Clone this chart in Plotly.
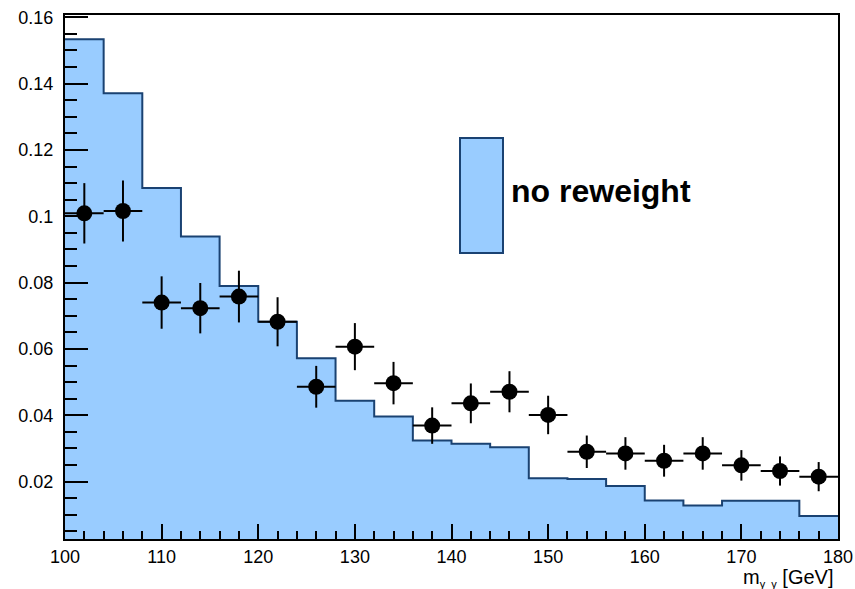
import plotly.graph_objects as go

# Binning: 20 bins of 4 GeV between 100 and 180 GeV
bin_edges = [100, 104, 108, 112, 116, 120, 124, 128, 132, 136, 140,
             144, 148, 152, 156, 160, 164, 168, 172, 176, 180]
bin_centers = [102, 106, 110, 114, 118, 122, 126, 130, 134, 138,
               142, 146, 150, 154, 158, 162, 166, 170, 174, 178]

# Simulation without reweighting (normalised histogram)
mc_noreweight = [0.1534, 0.1371, 0.1085, 0.0939, 0.0790, 0.0682, 0.0572,
                 0.0444, 0.0396, 0.0324, 0.0314, 0.0304, 0.0210, 0.0208,
                 0.0187, 0.0143, 0.0128, 0.0142, 0.0142, 0.0096]

# Data points and their statistical uncertainties
data_vals = [0.1009, 0.1016, 0.0740, 0.0723, 0.0758, 0.0682, 0.0486,
             0.0607, 0.0497, 0.0369, 0.0436, 0.0471, 0.0401, 0.0290,
             0.0285, 0.0263, 0.0285, 0.0249, 0.0232, 0.0215]
data_errs = [0.0091, 0.0092, 0.0079, 0.0076, 0.0078, 0.0074, 0.0063,
             0.0071, 0.0064, 0.0055, 0.0060, 0.0062, 0.0058, 0.0049,
             0.0049, 0.0048, 0.0049, 0.0046, 0.0044, 0.0044]
bin_half_width = [2] * len(bin_centers)

y_tickvals = [0.02, 0.04, 0.06, 0.08, 0.10, 0.12, 0.14, 0.16]
y_ticktext = ["0.02", "0.04", "0.06", "0.08", "0.1", "0.12", "0.14", "0.16"]
x_tickvals = [100, 110, 120, 130, 140, 150, 160, 170, 180]

legend_label = "no reweight"
x_title = "m<sub><span style='font-size:11px'>γ  γ</span></sub> [GeV]"

FILL = "#99ccff"
EDGE = "#1a4272"
FONT = "Liberation Sans, Arial, Helvetica, sans-serif"

fig = go.Figure()

# Filled step histogram
fig.add_trace(go.Scatter(
    x=bin_edges,
    y=mc_noreweight + [mc_noreweight[-1]],
    mode="lines",
    line=dict(shape="hv", color=EDGE, width=2),
    fill="tozeroy",
    fillcolor=FILL,
    showlegend=False,
    hoverinfo="skip",
))

# Data with error bars
fig.add_trace(go.Scatter(
    x=bin_centers,
    y=data_vals,
    mode="markers",
    marker=dict(symbol="circle", size=16, color="black"),
    error_y=dict(type="data", array=data_errs, color="black", thickness=2, width=0),
    error_x=dict(type="data", array=bin_half_width, color="black", thickness=2, width=0),
    showlegend=False,
))

W, H = 855, 589
ml, mr, mt, mb = 65, 17, 15, 50
pw, ph = W - ml - mr, H - mt - mb

def px_x(p):
    return (p - ml) / pw

def px_y(p):
    return (H - mb - p) / ph

# Legend box with label
fig.add_shape(type="rect", xref="paper", yref="paper",
              x0=px_x(460), x1=px_x(503), y0=px_y(253), y1=px_y(138),
              fillcolor=FILL, line=dict(color=EDGE, width=2), layer="above")
fig.add_annotation(xref="paper", yref="paper", x=px_x(509), y=px_y(191),
                   xanchor="left", yanchor="middle", showarrow=False,
                   text="<b>" + legend_label + "</b>",
                   font=dict(family=FONT, size=32, color="black"))

# Axis title placed at the right end, below the tick labels
fig.add_annotation(xref="paper", yref="paper", x=1, y=0,
                   xanchor="right", yanchor="top", yshift=-25, xshift=-2,
                   showarrow=False,
                   text=x_title, font=dict(family=FONT, size=20, color="black"))

axis_common = dict(
    showgrid=False, zeroline=False, automargin=False,
    showline=True, linecolor="black", linewidth=2, mirror=True,
    ticks="inside", tickcolor="black", tickwidth=2,
    tickfont=dict(family=FONT, size=18, color="black"),
)

fig.update_xaxes(
    range=[100, 180], tickmode="array", tickvals=x_tickvals,
    ticklen=15,
    minor=dict(ticks="inside", dtick=2, tick0=100, ticklen=8,
               tickcolor="black", tickwidth=2, showgrid=False),
    **axis_common,
)
fig.update_yaxes(
    range=[0.0027, 0.1607], tickmode="array", tickvals=y_tickvals,
    ticktext=y_ticktext, ticklen=23, ticklabelstandoff=6,
    minor=dict(ticks="inside", dtick=0.005, tick0=0, ticklen=12,
               tickcolor="black", tickwidth=2, showgrid=False),
    **axis_common,
)

fig.update_layout(
    width=W, height=H,
    margin=dict(l=ml, r=mr, t=mt, b=mb),
    paper_bgcolor="white", plot_bgcolor="white",
    font=dict(family=FONT, color="black"),
)

fig.write_html("out.html")
